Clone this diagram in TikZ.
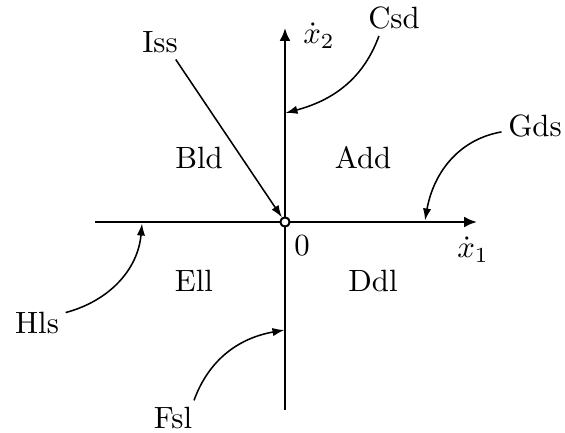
\documentclass[tikz,border=0pt]{standalone}
\usetikzlibrary{arrows.meta}

\begin{document}
\begin{tikzpicture}[x=0.325pt, y=0.325pt,
	axis/.style={line width=0.95pt, -{Latex[length=4.2pt, width=3.6pt]}},
	pointer/.style={line width=0.5pt, -{Latex[length=3.9pt, width=2.7pt]}},
	lbl/.style={inner sep=2pt}]
	\useasboundingbox (0, 0) rectangle (565, 433);
	% axes
	\draw[axis] (95, 211) -- (477, 211);
	\draw[axis] (285, 23) -- (285, 405);
	\node[circle, draw, fill=white, line width=0.65pt, minimum size=3pt, inner sep=0pt] (o) at (285, 211) {};
	\node[lbl] (x1) at (473, 183) {$\dot{x}_1$};
	\node[lbl] (x2) at (319, 397) {$\dot{x}_2$};
	\node[lbl] (zero) at (302, 187) {$0$};
	% regions
	\node[lbl] (add) at (363, 275) {Add};
	\node[lbl] (bld) at (199, 275) {Bld};
	\node[lbl] (ddl) at (373, 152) {Ddl};
	\node[lbl] (ell) at (194, 152) {Ell};
	% pointers
	\node[lbl] (csd) at (394, 415) {Csd};
	\node[lbl] (gds) at (535, 307) {Gds};
	\node[lbl] (hls) at (37, 110) {Hls};
	\node[lbl] (fsl) at (173, 15) {Fsl};
	\node[lbl] (iss) at (160, 391) {Iss};
	\coordinate (csdtip) at (285.5, 320);
	\coordinate (gdstip) at (425, 212.5);
	\coordinate (hlstip) at (142, 209.5);
	\coordinate (fsltip) at (284.5, 103);
	\draw[pointer] (csd.230) to[out=250, in=15] (csdtip);
	\draw[pointer] (gds.190) to[out=190, in=80] (gdstip);
	\draw[pointer] (hls.20) to[out=15, in=265] (hlstip);
	\draw[pointer] (fsl.40) to[out=70, in=190] (fsltip);
	\draw[pointer] (iss.-48) -- (o);
\end{tikzpicture}
\end{document}
